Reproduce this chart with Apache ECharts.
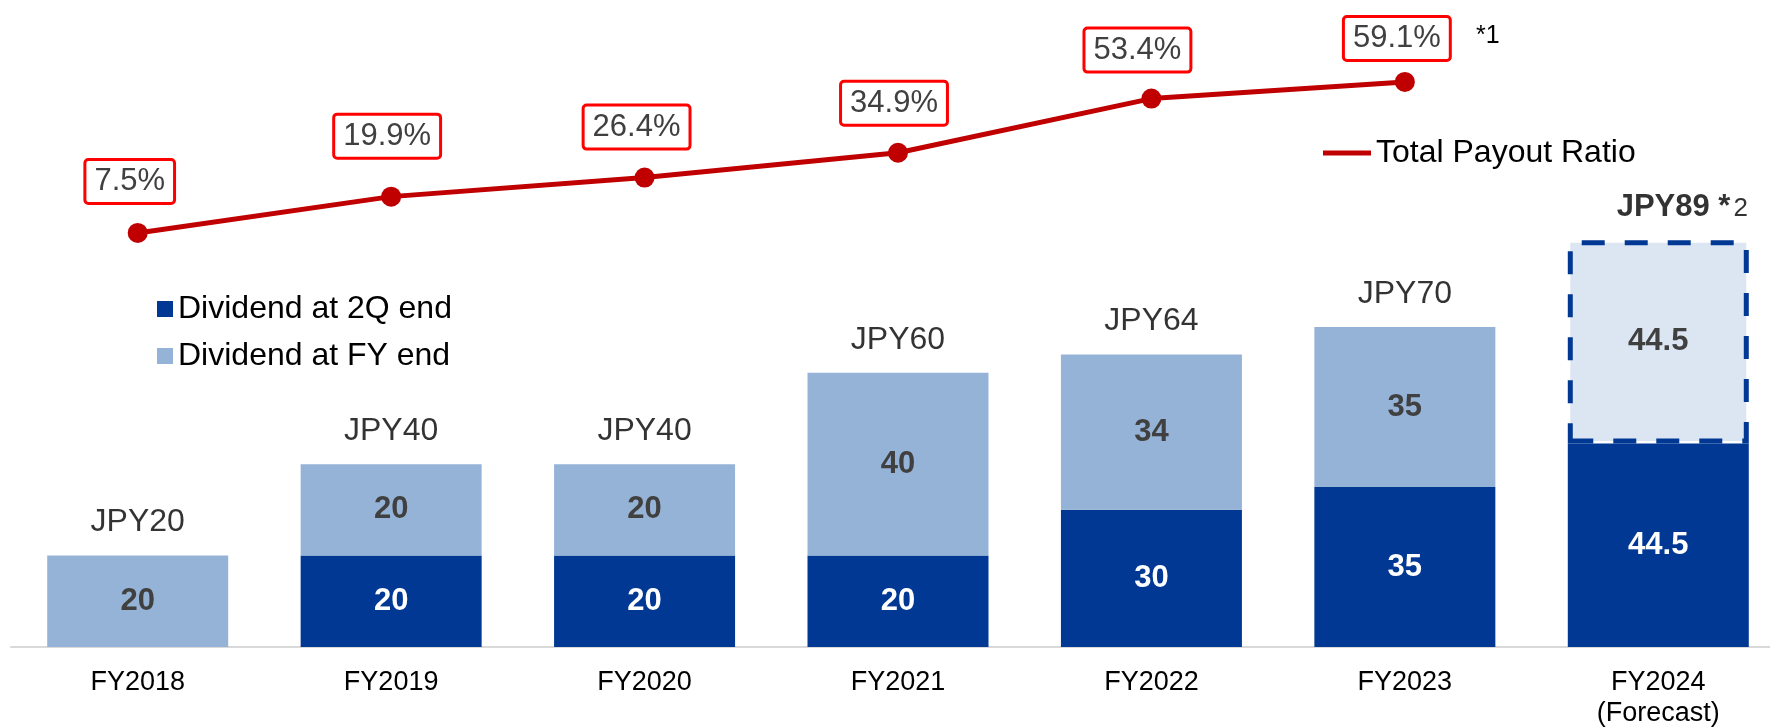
<!DOCTYPE html>
<html>
<head>
<meta charset="utf-8">
<script src="https://cdn.jsdelivr.net/npm/echarts@6/dist/echarts.min.js"></script>
<style>
  html, body { margin: 0; padding: 0; background: #fff; }
  #main { width: 1770px; height: 727px; }
</style>
</head>
<body>
<div id="main"></div>
<script>
// data
const years = ['FY2018', 'FY2019', 'FY2020', 'FY2021', 'FY2022', 'FY2023', 'FY2024\n(Forecast)'];
const div2Q = [0, 20, 20, 20, 30, 35, 44.5];
const divFY = [20, 20, 20, 40, 34, 35, 44.5];
const totals = [20, 40, 40, 60, 64, 70, 89];
const payout = [7.5, 19.9, 26.4, 34.9, 53.4, 59.1, '-'];
const forecastIdx = 6;

// hand-placed ratio boxes on the slide (dx, dy)
const payoutLabelShift = [[-8, -21], [-4, -30], [-8, -20], [-4, -19], [-14, -18], [-8, -13]];

const FONT = '"Liberation Sans", Arial, sans-serif';
const DARK = '#003893';
const LIGHT = '#95B3D7';

const chart = echarts.init(document.getElementById('main'));

let option = {
  animation: false,
  textStyle: { fontFamily: FONT },
  grid: { left: 11, top: 7, width: 1774, height: 640, outerBoundsMode: 'none', containLabel: false },
  legend: [
    {
      data: [{ name: 'Total Payout Ratio', icon: 'rect' }],
      left: 1318,
      top: 132,
      itemWidth: 48,
      itemHeight: 5,
      selectedMode: false,
      textStyle: { fontSize: 32, color: '#000', fontFamily: FONT, lineHeight: 32 }
    },
    {
      data: ['Dividend at 2Q end', 'Dividend at FY end'],
      orient: 'vertical',
      left: 152,
      top: 288,
      icon: 'rect',
      itemWidth: 16,
      itemHeight: 16,
      itemGap: 15,
      selectedMode: false,
      textStyle: { fontSize: 32, color: '#000', fontFamily: FONT, lineHeight: 32 }
    }
  ],
  xAxis: {
    type: 'category',
    data: years,
    axisTick: { show: false },
    axisLine: { lineStyle: { color: '#D9D9D9', width: 2 } },
    axisLabel: {
      interval: 0,
      fontSize: 27,
      lineHeight: 31,
      margin: 20,
      color: '#000',
      fontFamily: FONT
    }
  },
  yAxis: [
    { type: 'value', min: 0, max: 140, show: false },
    { type: 'value', min: -134, max: 84.7, show: false }
  ],
  series: [
    {
      name: 'Dividend at 2Q end',
      type: 'bar',
      stack: 'div',
      barWidth: 181,
      color: DARK,
      data: div2Q,
      label: {
        show: true,
        position: 'inside',
        color: '#fff',
        fontSize: 31,
        fontWeight: 'bold',
        fontFamily: FONT,
        formatter: p => (p.value ? String(p.value) : '')
      }
    },
    {
      name: 'Dividend at FY end',
      type: 'bar',
      stack: 'div',
      barWidth: 181,
      color: LIGHT,
      data: divFY.map((v, i) => i === forecastIdx ? {
        value: v,
        itemStyle: {
          color: '#DCE6F2',
          borderColor: DARK,
          borderWidth: 5,
          borderType: [23, 20]
        }
      } : v),
      label: {
        show: true,
        position: 'inside',
        color: '#404040',
        fontSize: 31,
        fontWeight: 'bold',
        fontFamily: FONT
      }
    },
    {
      name: 'total',
      type: 'scatter',
      symbolSize: 0,
      itemStyle: { color: 'transparent' },
      data: totals,
      z: 5,
      label: {
        show: true,
        position: 'top',
        distance: 17,
        color: '#000',
        fontSize: 32,
        fontFamily: FONT,
        formatter: p => p.dataIndex === forecastIdx
          ? '{b|JPY' + p.value + ' *}{s|2}'
          : 'JPY' + p.value,
        rich: {
          b: { fontSize: 31, fontWeight: 'bold', color: '#000', fontFamily: FONT, lineHeight: 32 },
          s: { fontSize: 26, color: '#000', fontFamily: FONT, lineHeight: 32, padding: [4, 0, 0, 3] }
        }
      },
      labelLayout: p => p.dataIndex === forecastIdx ? { dx: 24 } : {}
    },
    {
      name: 'Total Payout Ratio',
      type: 'line',
      yAxisIndex: 1,
      color: '#C00000',
      lineStyle: { width: 5, color: '#C00000' },
      symbol: 'circle',
      symbolSize: 20,
      z: 10,
      data: payout.map((v, i) => v === '-' ? v : {
        value: v,
        label: { offset: payoutLabelShift[i] }
      }),
      label: {
        show: true,
        position: 'top',
        distance: 0,
        formatter: '{c}%',
        color: '#404040',
        fontSize: 31,
        lineHeight: 31,
        fontFamily: FONT,
        backgroundColor: '#fff',
        borderColor: '#FF0000',
        borderWidth: 3,
        borderRadius: 2,
        padding: [5, 8]
      }
    }
  ],
  graphic: [
    {
      type: 'text',
      left: 1476,
      top: 24,
      style: { text: '*1', fontSize: 25, fill: '#000', fontFamily: FONT }
    }
  ]
};

chart.setOption(option);
</script>
</body>
</html>
